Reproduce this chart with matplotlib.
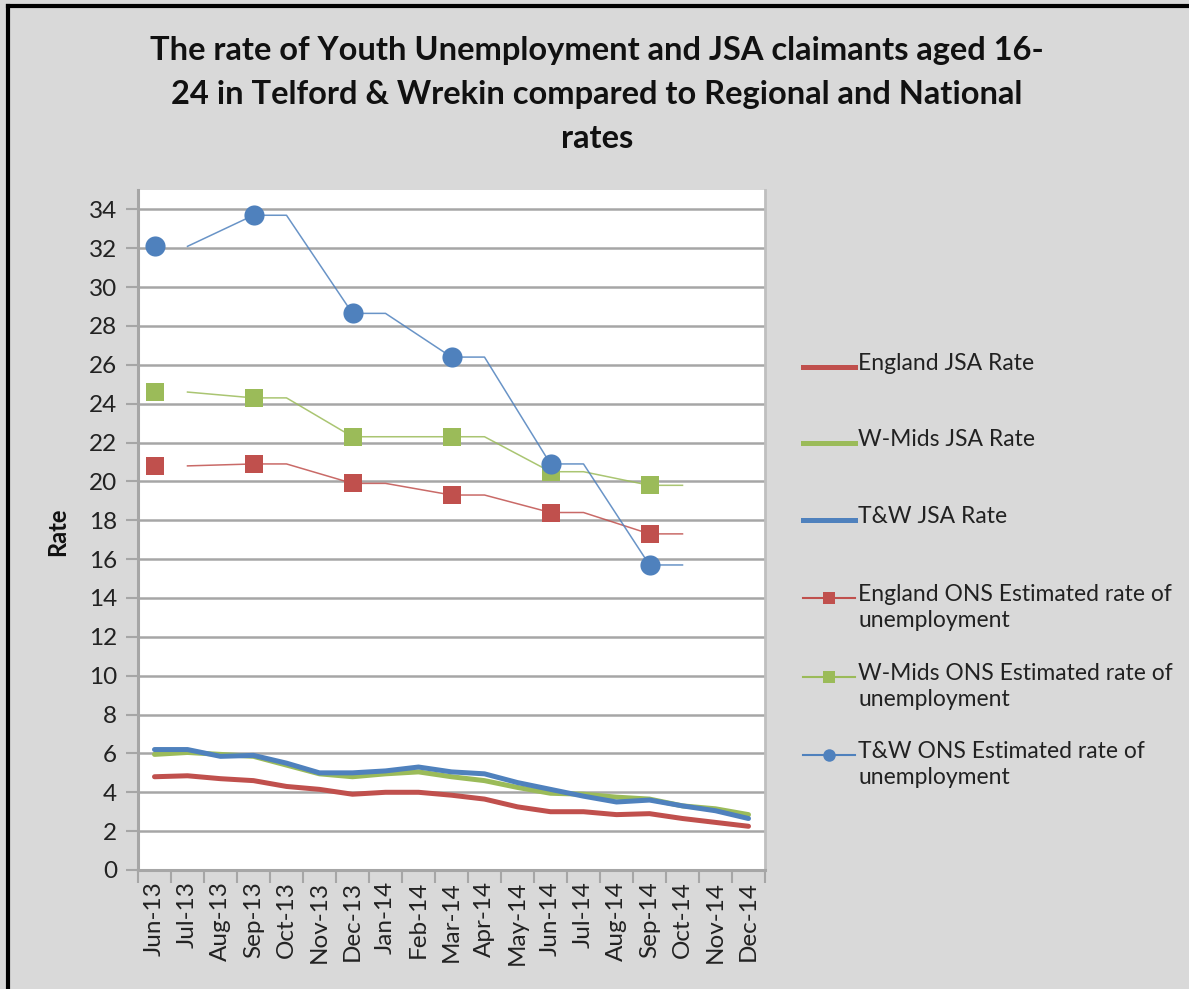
import numpy as np
import matplotlib.pyplot as plt
from matplotlib.lines import Line2D

# months on the category axis
months = ["Jun-13", "Jul-13", "Aug-13", "Sep-13", "Oct-13", "Nov-13", "Dec-13",
          "Jan-14", "Feb-14", "Mar-14", "Apr-14", "May-14", "Jun-14", "Jul-14",
          "Aug-14", "Sep-14", "Oct-14", "Nov-14", "Dec-14"]

# monthly JSA claimant rates
england_jsa = [4.8, 4.85, 4.7, 4.6, 4.3, 4.15, 3.9, 4.0, 4.0, 3.85, 3.65, 3.25,
               3.0, 3.0, 2.85, 2.9, 2.65, 2.45, 2.25]
wmids_jsa = [5.95, 6.05, 5.95, 5.85, 5.4, 4.95, 4.8, 4.95, 5.05, 4.8, 4.6, 4.25,
             3.95, 3.9, 3.75, 3.65, 3.3, 3.15, 2.85]
tw_jsa = [6.2, 6.2, 5.85, 5.9, 5.5, 5.0, 5.0, 5.1, 5.3, 5.05, 4.95, 4.5,
          4.15, 3.8, 3.5, 3.6, 3.3, 3.05, 2.65]

# quarterly ONS estimates
ons_months = ["Jun-13", "Sep-13", "Dec-13", "Mar-14", "Jun-14", "Sep-14"]
england_ons = [20.8, 20.9, 19.9, 19.3, 18.4, 17.3]
wmids_ons = [24.6, 24.3, 22.3, 22.3, 20.5, 19.8]
tw_ons = [32.1, 33.7, 28.65, 26.4, 20.9, 15.7]

RED = "#C0504D"
GREEN = "#9BBB59"
BLUE = "#4F81BD"
BG = "#D9D9D9"

plt.rcParams.update({"font.family": "Lato"})

fig = plt.figure(figsize=(11.89, 9.89), dpi=100, facecolor=BG)
W, H = 1189, 989


def fx(px):
    return px / W


def fy(py):
    return 1 - py / H


ax = fig.add_axes([fx(138), fy(870), fx(765) - fx(138), fy(190) - fy(870)])
ax.set_facecolor("white")

x = np.arange(len(months))
ons_x = [months.index(m) for m in ons_months]

ax.plot(x, england_jsa, color=RED, lw=3.6, solid_capstyle="round", zorder=3)
ax.plot(x, wmids_jsa, color=GREEN, lw=3.6, solid_capstyle="round", zorder=3)
ax.plot(x, tw_jsa, color=BLUE, lw=3.6, solid_capstyle="round", zorder=3)


def ons_line(vals):
    # thin connector as Excel drew it: held for one month after each point
    lx, ly = [], []
    for k, (i, v) in enumerate(zip(ons_x, vals)):
        if k > 0:
            lx.append(i)
            ly.append(v)
        lx.append(i + 1)
        ly.append(v)
    return lx, ly


for vals, col, mk, ms in [(england_ons, RED, "s", 13),
                          (wmids_ons, GREEN, "s", 13),
                          (tw_ons, BLUE, "o", 14.5)]:
    lx, ly = ons_line(vals)
    ax.plot(lx, ly, color=col, lw=1.1, alpha=0.85, zorder=4)
    ax.plot(ons_x, vals, ls="none", marker=mk, ms=ms, color=col,
            markeredgewidth=0, zorder=5)

ax.set_xlim(-0.5, len(months) - 0.5)
ax.set_ylim(0, 35)
ax.set_yticks(np.arange(0, 35, 2))
ax.yaxis.grid(True, color="#A6A6A6", lw=1.8)
ax.set_axisbelow(True)

ax.set_xticks(x)
ax.set_xticklabels(months, rotation=90, fontsize=17.5, color="#222222")
ax.set_xticks(np.arange(-0.5, len(months), 1), minor=True)
ax.tick_params(axis="x", which="major", length=0, pad=8)
ax.tick_params(axis="x", which="minor", length=9, width=1.5, color="#A6A6A6",
               direction="out")
ax.tick_params(axis="y", labelsize=17.5, length=9, width=1.5, color="#A6A6A6",
               labelcolor="#222222", pad=6)

for side in ["left", "bottom"]:
    ax.spines[side].set_color("#A6A6A6")
    ax.spines[side].set_linewidth(2.2)
ax.spines["right"].set_color("#BFBFBF")
ax.spines["right"].set_linewidth(2)
ax.spines["top"].set_visible(False)

fig.text(fx(58), fy(532), "Rate", rotation=90, ha="center", va="center",
         fontsize=17, fontweight="bold", color="#111111")

fig.text(fx(597), fy(36), "The rate of Youth Unemployment and JSA claimants aged 16-\n"
         "24 in Telford & Wrekin compared to Regional and National\nrates",
         ha="center", va="top", fontsize=23.5, fontweight="bold",
         linespacing=1.62, color="#111111")

# legend laid out like the Excel one: marker on the first text line
legend_items = [
    ("England JSA Rate", RED, None, 367),
    ("W-Mids JSA Rate", GREEN, None, 443),
    ("T&W JSA Rate", BLUE, None, 520),
    ("England ONS Estimated rate of\nunemployment", RED, "s", 598),
    ("W-Mids ONS Estimated rate of\nunemployment", GREEN, "s", 677),
    ("T&W ONS Estimated rate of\nunemployment", BLUE, "o", 755),
]
for label, col, mk, py in legend_items:
    lw = 3.6 if mk is None else 1.5
    fig.add_artist(Line2D([fx(803), fx(855)], [fy(py), fy(py)], color=col,
                          lw=lw, transform=fig.transFigure))
    if mk is not None:
        fig.add_artist(Line2D([fx(829)], [fy(py)], marker=mk, ms=9, color=col,
                              markeredgewidth=0, transform=fig.transFigure))
    fig.text(fx(858), fy(py - 14), label, ha="left", va="top", fontsize=16.5,
             linespacing=1.3, color="#222222")

# black frame along top and left edge
fig.add_artist(Line2D([fx(8), 1], [fy(6), fy(6)], color="black", lw=3,
                      transform=fig.transFigure))
fig.add_artist(Line2D([fx(8), fx(8)], [fy(6), 0], color="black", lw=3,
                      transform=fig.transFigure))

fig.savefig("out.png", dpi=100, facecolor=BG)
